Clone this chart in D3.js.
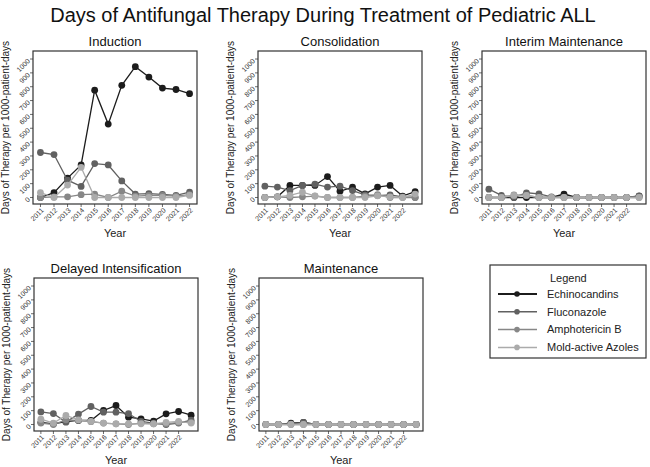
<!DOCTYPE html>
<html>
<head>
<meta charset="utf-8">
<script src="https://cdn.jsdelivr.net/npm/d3@7"></script>
<style>
  body { margin: 0; background: #fff; }
  svg { display: block; font-family: "Liberation Sans", Arial, Helvetica, sans-serif; }
</style>
</head>
<body>
<svg id="chart" width="650" height="467"></svg>
<script>
// --- Data (days of therapy per 1000 patient-days) ---
const years = ['2011', '2012', '2013', '2014', '2015', '2016', '2017', '2018', '2019', '2020', '2021', '2022'];
const drugs = ['Echinocandins', 'Fluconazole', 'Amphotericin B', 'Mold-active Azoles'];
const drugColors = ['#1c1c1c', '#616161', '#878787', '#ababab'];
const yTicks = [0, 100, 200, 300, 400, 500, 600, 700, 800, 900, 1000];

// Induction (12 years)
const inductionEchinocandins = [0, 35, 140, 235, 775, 530, 810, 945, 870, 790, 780, 750];
const inductionFluconazole   = [325, 310, 125, 80, 245, 235, 120, 25, 28, 22, 15, 38];
const inductionAmphotericin  = [0, 5, 5, 20, 25, 0, 45, 10, 15, 15, 10, 20];
const inductionMoldAzoles    = [35, 0, 90, 218, 0, 0, 0, 0, 0, 0, 0, 15];

// Consolidation (13 points, 12 labels)
const consolidationEchinocandins = [0, 5, 87, 87, 87, 151, 45, 75, 26, 75, 87, 10, 43];
const consolidationFluconazole   = [82, 75, 50, 87, 96, 75, 82, 50, 19, 14, 19, 5, 0];
const consolidationAmphotericin  = [0, 5, 0, 5, 10, 0, 0, 0, 10, 20, 0, 0, 0];
const consolidationMoldAzoles    = [0, 5, 15, 38, 12, 0, 0, 0, 0, 12, 5, 0, 25];

// Interim Maintenance
const interimEchinocandins = [0, 0, 0, 0, 0, 0, 25, 0, 0, 0, 0, 0, 10];
const interimFluconazole   = [60, 15, 0, 34, 26, 5, 0, 0, 0, 0, 0, 0, 12];
const interimAmphotericin  = [0, 0, 18, 15, 0, 0, 0, 0, 0, 0, 0, 0, 0];
const interimMoldAzoles    = [0, 0, 15, 15, 0, 0, 0, 0, 0, 0, 0, 0, 0];

// Delayed Intensification
const delayedEchinocandins = [15, 5, 20, 29, 29, 101, 137, 53, 41, 24, 77, 94, 67];
const delayedFluconazole   = [91, 79, 17, 75, 130, 89, 89, 79, 22, 10, 0, 10, 31];
const delayedAmphotericin  = [10, 0, 34, 30, 20, 10, 5, 0, 10, 5, 5, 15, 15];
const delayedMoldAzoles    = [38, 10, 65, 34, 22, 10, 5, 5, 5, 5, 15, 22, 10];

// Maintenance
const maintenanceEchinocandins = [0, 0, 10, 15, 0, 0, 0, 0, 0, 0, 0, 0, 0];
const maintenanceFluconazole   = [0, 0, 5, 15, 0, 0, 0, 0, 0, 0, 0, 0, 0];
const maintenanceAmphotericin  = [0, 0, 0, 0, 0, 0, 0, 0, 0, 0, 0, 0, 0];
const maintenanceMoldAzoles    = [0, 0, 0, 0, 0, 0, 0, 0, 0, 0, 0, 0, 0];

const panels = [
  { title: 'Induction', x: 33, y: 51, series: [inductionEchinocandins, inductionFluconazole, inductionAmphotericin, inductionMoldAzoles] },
  { title: 'Consolidation', x: 258, y: 51, series: [consolidationEchinocandins, consolidationFluconazole, consolidationAmphotericin, consolidationMoldAzoles] },
  { title: 'Interim Maintenance', x: 482, y: 51, series: [interimEchinocandins, interimFluconazole, interimAmphotericin, interimMoldAzoles] },
  { title: 'Delayed Intensification', x: 34, y: 278, series: [delayedEchinocandins, delayedFluconazole, delayedAmphotericin, delayedMoldAzoles] },
  { title: 'Maintenance', x: 259, y: 278, series: [maintenanceEchinocandins, maintenanceFluconazole, maintenanceAmphotericin, maintenanceMoldAzoles] }
];

const W = 164, H = 153;
const svg = d3.select('#chart');

svg.append('text')
  .attr('x', 323).attr('y', 22)
  .attr('text-anchor', 'middle')
  .attr('font-size', 20)
  .attr('fill', '#111')
  .text('Days of Antifungal Therapy During Treatment of Pediatric ALL');

panels.forEach(p => drawPanel(p));

function drawPanel(p) {
  const g = svg.append('g').attr('transform', `translate(${p.x},${p.y})`);
  const n = p.series[0].length;
  const x = d3.scaleLinear().domain([-0.55, n - 1 + 0.55]).range([0, W]);
  const y = d3.scaleLinear().domain([-47, 1058]).range([H, 0]);

  // y axis ticks + labels
  const yAxis = g.append('g');
  yAxis.selectAll('line').data(yTicks).join('line')
    .attr('x1', -3).attr('x2', 0)
    .attr('y1', d => y(d)).attr('y2', d => y(d))
    .attr('stroke', '#444').attr('stroke-width', 0.8);
  yAxis.selectAll('text').data(yTicks).join('text')
    .attr('transform', d => `translate(-4,${y(d) + 1}) rotate(-45)`)
    .attr('text-anchor', 'end')
    .attr('dy', '0.3em')
    .attr('font-size', 7)
    .attr('fill', '#333')
    .text(d => d);

  // x axis ticks + labels
  const xAxis = g.append('g');
  xAxis.selectAll('line').data(years).join('line')
    .attr('x1', (d, i) => x(i)).attr('x2', (d, i) => x(i))
    .attr('y1', H).attr('y2', H + 3)
    .attr('stroke', '#444').attr('stroke-width', 0.8);
  xAxis.selectAll('text').data(years).join('text')
    .attr('transform', (d, i) => `translate(${x(i) + 2},${H + 5}) rotate(-45)`)
    .attr('text-anchor', 'end')
    .attr('dy', '0.35em')
    .attr('font-size', 7)
    .attr('fill', '#333')
    .text(d => d);

  g.append('text')
    .attr('x', W / 2).attr('y', H + 33)
    .attr('text-anchor', 'middle')
    .attr('font-size', 11)
    .attr('fill', '#222')
    .text('Year');

  g.append('text')
    .attr('transform', `translate(-24,${H / 2}) rotate(-90)`)
    .attr('text-anchor', 'middle')
    .attr('font-size', 10)
    .attr('fill', '#222')
    .text('Days of Therapy per 1000-patient-days');

  g.append('text')
    .attr('x', W / 2).attr('y', -5)
    .attr('text-anchor', 'middle')
    .attr('font-size', 13)
    .attr('fill', '#111')
    .text(p.title);

  const line = d3.line().x((d, i) => x(i)).y(d => y(d));
  p.series.forEach((vals, k) => {
    g.append('path')
      .attr('d', line(vals))
      .attr('fill', 'none')
      .attr('stroke', drugColors[k])
      .attr('stroke-width', 1.3);
    g.append('g').selectAll('circle').data(vals).join('circle')
      .attr('cx', (d, i) => x(i))
      .attr('cy', d => y(d))
      .attr('r', 3.4)
      .attr('fill', drugColors[k]);
  });

  g.append('rect')
    .attr('width', W).attr('height', H)
    .attr('fill', 'none')
    .attr('stroke', '#333').attr('stroke-width', 1.2);
}

// --- Legend ---
const lg = svg.append('g').attr('transform', 'translate(490,265)');
lg.append('rect')
  .attr('width', 156).attr('height', 93)
  .attr('fill', 'none').attr('stroke', '#333').attr('stroke-width', 1.2);
lg.append('text')
  .attr('x', 60).attr('y', 17)
  .attr('font-size', 11).attr('fill', '#222')
  .text('Legend');
const items = lg.selectAll('g.item').data(drugs).join('g')
  .attr('class', 'item')
  .attr('transform', (d, i) => `translate(0,${29 + i * 17.8})`);
items.append('line')
  .attr('x1', 8).attr('x2', 47)
  .attr('stroke', (d, i) => drugColors[i])
  .attr('stroke-width', (d, i) => i === 0 ? 2 : 1.5);
items.append('circle')
  .attr('cx', 27).attr('r', 2.8)
  .attr('fill', (d, i) => drugColors[i]);
items.append('text')
  .attr('x', 57).attr('dy', '0.35em')
  .attr('font-size', 11).attr('fill', '#222')
  .text(d => d);
</script>
</body>
</html>
